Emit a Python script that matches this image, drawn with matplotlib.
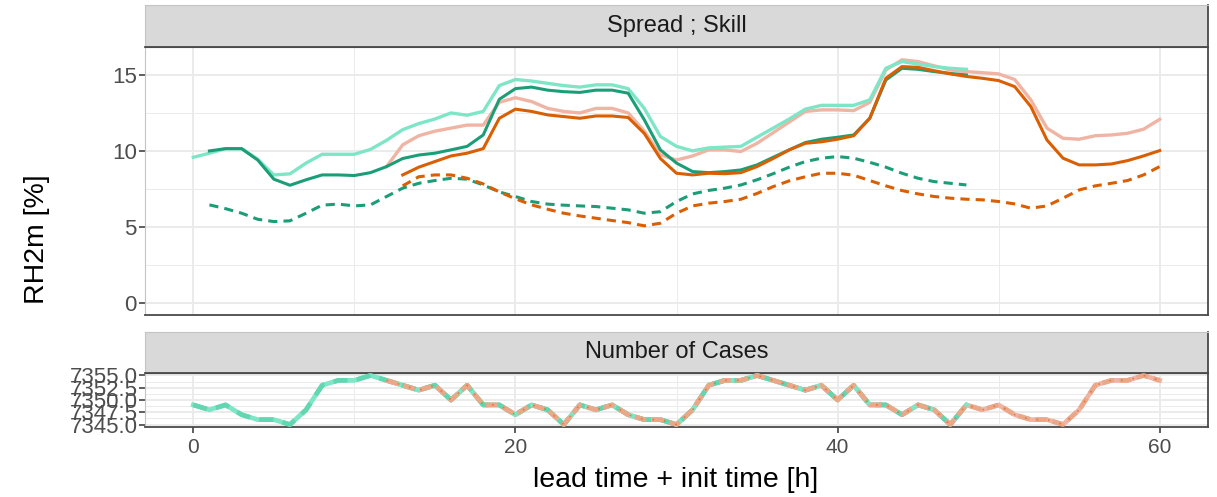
"""RH2m spread/skill by lead time, with number of cases underneath."""
import matplotlib.pyplot as plt
import matplotlib.ticker as mticker
import numpy as np

plt.rcParams["font.family"] = ["Liberation Sans", "DejaVu Sans"]

# ── data ─────────────────────────────────────────────────────────────────────
hours = np.arange(0, 61)

# run 00 (green): lead hours 0..48
skill_a = [9.58, 9.85, 10.15, 10.15, 9.45, 8.42, 8.49, 9.2, 9.78, 9.78, 9.78, 10.1,
           10.7, 11.4, 11.8, 12.1, 12.5, 12.35, 12.6, 14.3, 14.7, 14.6, 14.45, 14.3,
           14.2, 14.35, 14.35, 14.1, 12.8, 10.95, 10.3, 10.0, 10.2, 10.25, 10.3, 10.9,
           11.5, 12.1, 12.75, 13.0, 13.0, 13.0, 13.36, 15.44, 15.88, 15.72, 15.55,
           15.44, 15.37]
rmse_a = [10.0, 10.15, 10.15, 9.4, 8.14, 7.74, 8.1, 8.42, 8.42, 8.38, 8.57, 8.97,
          9.5, 9.73, 9.85, 10.07, 10.3, 11.05, 13.4, 14.1, 14.2, 14.0, 13.9, 13.85,
          14.0, 14.0, 13.8, 12.05, 10.07, 9.2, 8.64, 8.57, 8.64, 8.75, 9.08, 9.58,
          10.07, 10.55, 10.77, 10.9, 11.05, 12.15, 14.67, 15.44, 15.37, 15.22, 15.1,
          15.0]
spread_a = [6.45, 6.2, 5.9, 5.5, 5.35, 5.4, 5.9, 6.43, 6.5, 6.38, 6.45, 7.0, 7.55,
            7.87, 8.05, 8.2, 8.14, 7.76, 7.3, 7.0, 6.67, 6.5, 6.43, 6.38, 6.34, 6.23,
            6.12, 5.9, 6.0, 6.67, 7.17, 7.4, 7.55, 7.76, 8.1, 8.5, 8.93, 9.3, 9.52,
            9.63, 9.52, 9.25, 8.93, 8.53, 8.2, 7.98, 7.87, 7.76]

# run 12 (orange): lead hours 12..60
skill_b = [8.97, 10.4, 11.0, 11.3, 11.5, 11.7, 11.7, 13.2, 13.5, 13.25, 12.8, 12.6,
           12.5, 12.8, 12.8, 12.5, 11.3, 9.75, 9.4, 9.67, 10.07, 10.07, 9.96, 10.5,
           11.2, 11.9, 12.6, 12.7, 12.7, 12.65, 13.2, 15.33, 16.0, 15.88, 15.6, 15.33,
           15.22, 15.15, 15.07, 14.7, 13.36, 11.5, 10.83, 10.77, 11.0, 11.05, 11.16,
           11.43, 12.08]
rmse_b = [8.42, 8.93, 9.3, 9.67, 9.85, 10.15, 12.15, 12.75, 12.6, 12.37, 12.26, 12.15,
          12.3, 12.3, 12.2, 11.15, 9.5, 8.53, 8.42, 8.53, 8.5, 8.57, 8.97, 9.5, 10.07,
          10.5, 10.6, 10.77, 11.0, 12.15, 14.78, 15.55, 15.5, 15.28, 15.07, 14.9,
          14.78, 14.63, 14.23, 12.92, 10.72, 9.52, 9.08, 9.08, 9.14, 9.36, 9.67, 10.02]
spread_b = [7.7, 8.3, 8.42, 8.42, 8.2, 7.83, 7.3, 6.85, 6.45, 6.16, 5.9, 5.72, 5.57,
            5.42, 5.28, 5.07, 5.24, 5.9, 6.38, 6.56, 6.67, 6.82, 7.2, 7.65, 8.03, 8.3,
            8.53, 8.53, 8.4, 8.05, 7.7, 7.39, 7.17, 7.0, 6.89, 6.82, 6.78, 6.67, 6.51,
            6.23, 6.38, 6.89, 7.43, 7.7, 7.87, 8.05, 8.42, 8.97]

# number of cases per valid hour
cases = [7349, 7348, 7349, 7347, 7346, 7346, 7345, 7348, 7353, 7354, 7354, 7355,
         7354, 7353, 7352, 7353, 7350, 7353, 7349, 7349, 7347, 7349, 7348, 7345,
         7349, 7348, 7349, 7347, 7346, 7346, 7345, 7348, 7353, 7354, 7354, 7355,
         7354, 7353, 7352, 7353, 7350, 7353, 7349, 7349, 7347, 7349, 7348, 7345,
         7349, 7348, 7349, 7347, 7346, 7346, 7345, 7348, 7353, 7354, 7354, 7355,
         7354]

GREEN, ORANGE = "#1b9e77", "#d95f02"
MINT, SALMON = "#7ee6c6", "#f0b4a4"
GRID = "#ebebeb"
DARK = "#4a4a4a"

W, H = 1217, 497
fig = plt.figure(figsize=(W / 100, H / 100), dpi=100)


def add_px(left, top, right, bottom):
    return fig.add_axes([left / W, 1 - bottom / H, (right - left) / W, (bottom - top) / H])


def strip(left, top, right, bottom, label):
    s = add_px(left, top, right, bottom)
    s.set_facecolor("#d9d9d9")
    s.set_xticks([])
    s.set_yticks([])
    for side in ("left", "top"):
        s.spines[side].set_color("#c4c4c4")
    for side in ("right", "bottom"):
        s.spines[side].set_color(DARK)
        s.spines[side].set_linewidth(1.3)
    s.text(0.5, 0.5, label, transform=s.transAxes, ha="center", va="center",
           fontsize=17, color="#1a1a1a")
    return s


def style_panel(ax):
    ax.set_facecolor("white")
    ax.grid(True, which="major", color=GRID, lw=1.4, zorder=0)
    ax.grid(True, which="minor", color=GRID, lw=0.7, zorder=0)
    ax.set_axisbelow(True)
    ax.spines["left"].set_color("#c4c4c4")
    ax.spines["top"].set_color(DARK)
    for side in ("right", "bottom"):
        ax.spines[side].set_color(DARK)
        ax.spines[side].set_linewidth(1.3)
    ax.tick_params(which="major", length=4, width=1.1, color="#333333",
                   labelcolor="#4d4d4d", pad=2)
    ax.tick_params(axis="y", labelsize=16)
    ax.tick_params(axis="x", labelsize=15)
    ax.tick_params(which="minor", length=0)
    ax.set_xlim(-3, 63)
    ax.xaxis.set_major_locator(mticker.MultipleLocator(20))
    ax.xaxis.set_minor_locator(mticker.MultipleLocator(10))


# ── Spread ; Skill ───────────────────────────────────────────────────────────
strip(145, 5, 1208, 47, "Spread ; Skill")
ax = add_px(145, 47, 1208, 315)
style_panel(ax)
ha = hours[:49]
hb = hours[12:]
dash = dict(dashes=(3, 2), dash_capstyle="butt")
ax.plot(hb, skill_b, color=SALMON, lw=2.4, zorder=2)
ax.plot(ha, skill_a, color=MINT, lw=2.4, zorder=2)
ax.plot(ha[1:], spread_a, color=GREEN, lw=2.2, zorder=3, **dash)
ax.plot(hb[1:], spread_b, color=ORANGE, lw=2.2, zorder=3, **dash)
ax.plot(ha[1:], rmse_a, color=GREEN, lw=2.2, zorder=4)
ax.plot(hb[1:], rmse_b, color=ORANGE, lw=2.2, zorder=4)
ax.set_ylim(-0.8, 16.84)
ax.yaxis.set_major_locator(mticker.MultipleLocator(5))
ax.yaxis.set_minor_locator(mticker.MultipleLocator(2.5))
ax.tick_params(axis="x", which="both", bottom=False, labelbottom=False)

# ── Number of Cases ──────────────────────────────────────────────────────────
strip(145, 332, 1208, 373, "Number of Cases")
bx = add_px(145, 373, 1208, 427)
style_panel(bx)
bx.plot(hb, cases[12:], color=SALMON, lw=3.4, zorder=2)
bx.plot(ha, cases[:49], color=MINT, lw=3.4, zorder=3)
bx.plot(ha, cases[:49], color="#62d6b0", lw=3.4, zorder=3, dashes=(3, 2))
bx.plot(hb, cases[12:], color="#eba888", lw=3.4, zorder=4, dashes=(2.5, 1.2))
bx.plot(hb, cases[12:], color="#e07a45", lw=1.2, zorder=5, dashes=(1, 6))
bx.set_ylim(7344.5, 7355.5)
bx.yaxis.set_major_locator(mticker.MultipleLocator(2.5))
bx.yaxis.set_minor_locator(mticker.MultipleLocator(1.25))
bx.yaxis.set_major_formatter(mticker.FormatStrFormatter("%.1f"))
bx.tick_params(axis="y", pad=1)
bx.tick_params(axis="x", pad=4)

fig.text(676 / W, 1 - 480 / H, "lead time + init time [h]", ha="center", va="center",
         fontsize=20.5, color="black")
fig.text(37 / W, 1 - 239 / H, "RH2m [%]", ha="center", va="center", rotation=90,
         fontsize=20.5, color="black")

fig.savefig("out.png", dpi=100)
